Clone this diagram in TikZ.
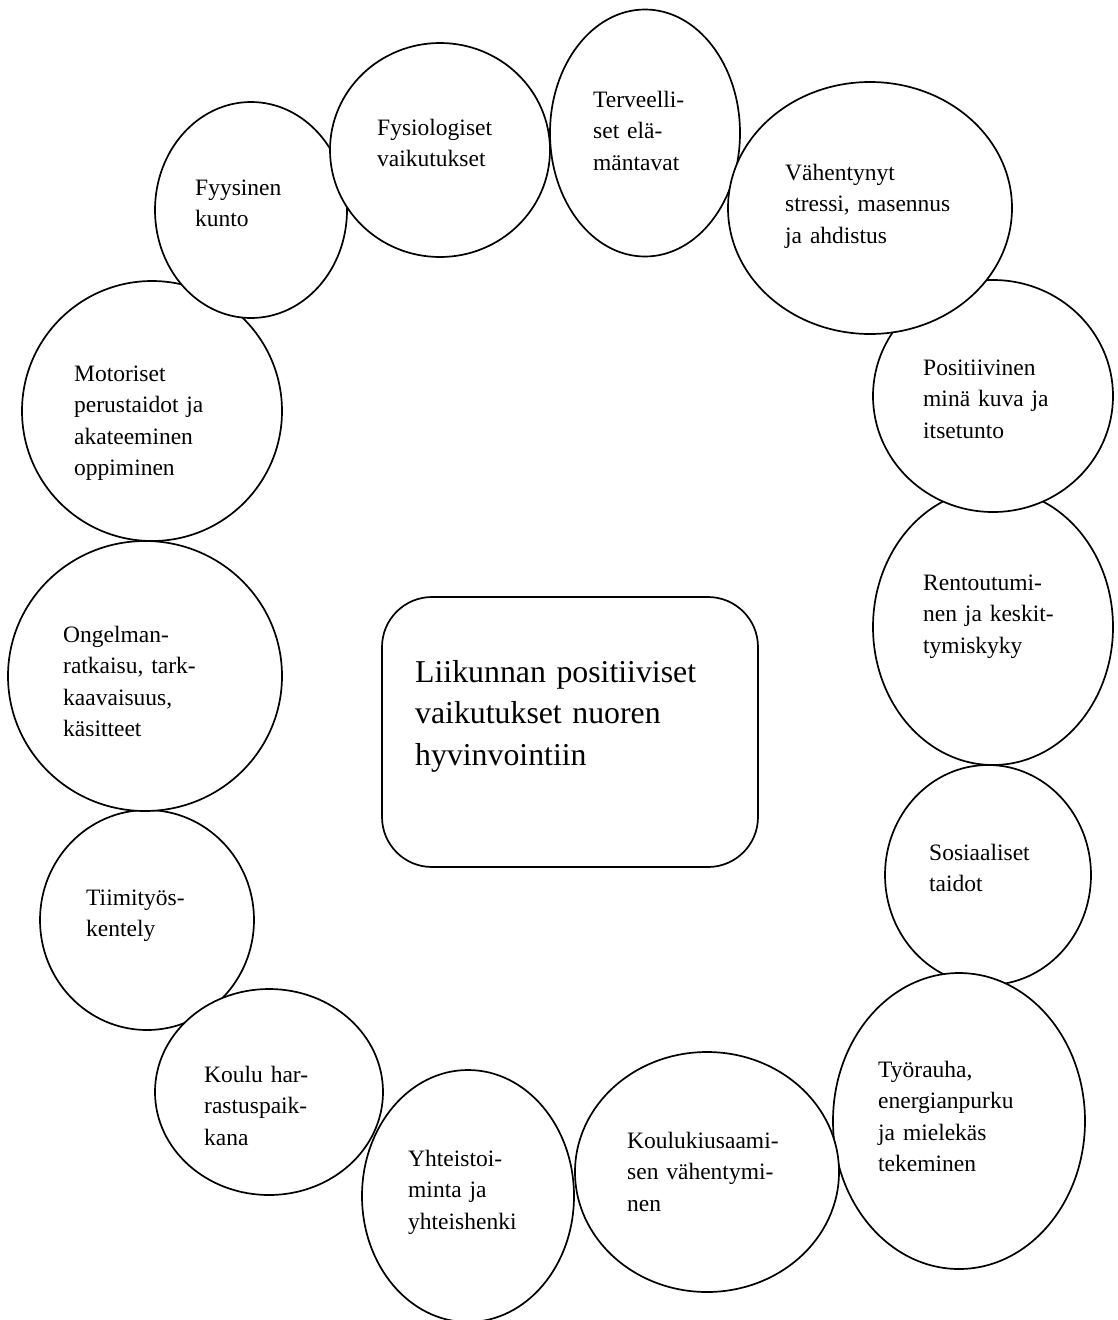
\documentclass[tikz,border=0pt]{standalone}
\usepackage{fontspec}
\setmainfont{Liberation Serif}
\usetikzlibrary{shapes.geometric}
\begin{document}
\begin{tikzpicture}[x=1pt,y=-1pt,
  bubble/.style={draw, ellipse, line width=1.7pt, fill=white, inner sep=0pt},
  lbl/.style={anchor=base west, inner sep=0pt, align=left, text width=260pt,
    font=\fontsize{23.5}{31.5}\selectfont},
  centre/.style={draw, rectangle, rounded corners=50pt, line width=1.7pt, fill=white,
    minimum width=376pt, minimum height=270pt, inner sep=0pt},
  centrelbl/.style={anchor=base west, inner sep=0pt, align=left, text width=340pt,
    font=\fontsize{31.8}{41.5}\selectfont}]
\useasboundingbox (0,0) rectangle (1117,1320);
\fill[white] (0,0) rectangle (1117,1320);

% centre box
\node[centre] (c) at (570,732) {};
\node[centrelbl] (ct) at (415,682) {Liikunnan positiiviset\\vaikutukset nuoren\\hyvinvointiin};

% Motoriset
\node[bubble, minimum width=260pt, minimum height=260pt] (e14) at (152,411) {};
\node[lbl] (t14) at (74,381) {Motoriset\\perustaidot ja\\akateeminen\\oppiminen};

% Fyysinen kunto
\node[bubble, minimum width=192pt, minimum height=216pt] (e1) at (251,210) {};
\node[lbl] (t1) at (195,195) {Fyysinen\\kunto};

% Fysiologiset
\node[bubble, minimum width=220pt, minimum height=214pt] (e2) at (440,150) {};
\node[lbl] (t2) at (377,135) {Fysiologiset\\vaikutukset};

% Terveelliset
\node[bubble, minimum width=190pt, minimum height=247pt] (e3) at (645,133) {};
\node[lbl] (t3) at (593,107) {Terveelli-\\set elä-\\mäntavat};

% Rentoutuminen
\node[bubble, minimum width=240pt, minimum height=276pt] (e6) at (993,627) {};
\node[lbl] (t6) at (923,590) {Rentoutumi-\\nen ja keskit-\\tymiskyky};

% Positiivinen
\node[bubble, minimum width=240pt, minimum height=232pt] (e5) at (993,396) {};
\node[lbl] (t5) at (923,375) {Positiivinen\\minä kuva ja\\itsetunto};

% Vähentynyt
\node[bubble, minimum width=284pt, minimum height=252pt] (e4) at (870,208) {};
\node[lbl] (t4) at (785,180) {Vähentynyt\\stressi, masennus\\ja ahdistus};

% Sosiaaliset
\node[bubble, minimum width=206pt, minimum height=220pt] (e7) at (988,875) {};
\node[lbl] (t7) at (929,860) {Sosiaaliset\\taidot};

% Työrauha
\node[bubble, minimum width=252pt, minimum height=296pt] (e8) at (959,1121) {};
\node[lbl] (t8) at (878,1077) {Työrauha,\\energianpurku\\ja mielekäs\\tekeminen};

% Koulukiusaamisen
\node[bubble, minimum width=264pt, minimum height=240pt] (e9) at (707,1172) {};
\node[lbl] (t9) at (627,1148) {Koulukiusaami-\\sen vähentymi-\\nen};

% Yhteistoiminta
\node[bubble, minimum width=212pt, minimum height=252pt] (e10) at (468,1196) {};
\node[lbl] (t10) at (408,1166) {Yhteistoi-\\minta ja\\yhteishenki};

% Tiimityöskentely
\node[bubble, minimum width=214pt, minimum height=220pt] (e12) at (147,920) {};
\node[lbl] (t12) at (86,905) {Tiimityös-\\kentely};

% Koulu harrastuspaikkana
\node[bubble, minimum width=228pt, minimum height=206pt] (e11) at (269,1092) {};
\node[lbl] (t11) at (204,1082) {Koulu har-\\rastuspaik-\\kana};

% Ongelmanratkaisu
\node[bubble, minimum width=274pt, minimum height=270pt] (e13) at (145,676) {};
\node[lbl] (t13) at (63,642) {Ongelman-\\ratkaisu, tark-\\kaavaisuus,\\käsitteet};
\end{tikzpicture}
\end{document}
